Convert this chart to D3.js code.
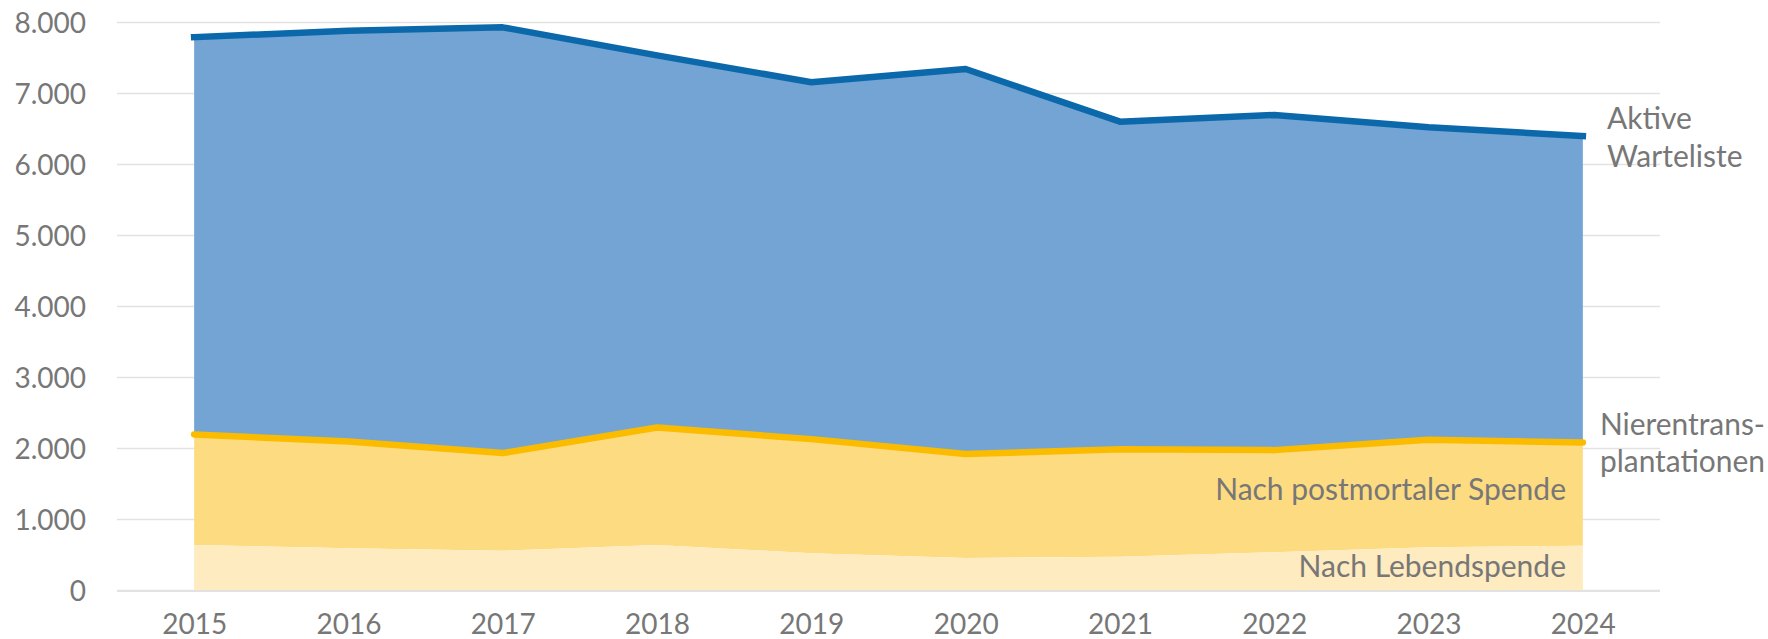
<!DOCTYPE html>
<html lang="de">
<head>
<meta charset="utf-8">
<script src="https://cdn.jsdelivr.net/npm/d3@7"></script>
<style>
  html, body { margin: 0; padding: 0; background: #fff; }
  svg { display: block; font-family: Lato, "Open Sans", sans-serif; }
  .tick text { fill: #777; }
</style>
</head>
<body>
<svg id="chart" width="1768" height="639"></svg>
<script>
// Jahre
const years = ["2015", "2016", "2017", "2018", "2019", "2020", "2021", "2022", "2023", "2024"];
// Nierentransplantationen nach Lebendspende
const living = [635, 588, 554, 635, 518, 451, 470, 532, 602, 625];
// Nierentransplantationen nach postmortaler Spende
const postmortal = [1556, 1504, 1374, 1654, 1607, 1463, 1514, 1438, 1513, 1452];
// Patienten auf der aktiven Warteliste
const waitlist = [7786, 7878, 7925, 7530, 7151, 7338, 6596, 6690, 6517, 6394];
// Achsenbeschriftung der Werte
const yTicks = [0, 1000, 2000, 3000, 4000, 5000, 6000, 7000, 8000];

const rows = years.map((yr, i) => ({
  year: yr,
  living: living[i],
  total: living[i] + postmortal[i],
  wait: waitlist[i]
}));

const svg = d3.select("#chart");
const W = 1768;
const plotLeft = 117, plotRight = 1660, plotTop = 22, plotBottom = 590;
const fontFamily = "Lato, 'Open Sans', sans-serif";
const textGrey = "#777";

const x = d3.scalePoint().domain(years).range([plotLeft, plotRight]).padding(0.5);
const y = d3.scaleLinear().domain([0, 8000]).range([plotBottom, plotTop]);

const de = d3.formatLocale({ decimal: ",", thousands: ".", grouping: [3], currency: ["", " €"] });
const fmt = de.format(",");

// Gitternetz und Werteachse
const yAxis = svg.append("g")
  .attr("transform", `translate(${plotLeft},0)`)
  .call(d3.axisLeft(y).tickValues(yTicks).tickFormat(fmt)
    .tickSize(-(plotRight - plotLeft)).tickPadding(31))
  .attr("font-family", fontFamily).attr("font-size", 28);
yAxis.select(".domain").remove();
yAxis.selectAll(".tick line").attr("stroke", "#e2e2e2").attr("stroke-width", 1.5);
yAxis.selectAll(".tick text").attr("fill", textGrey).attr("dy", "0.36em");

// Flächen
const areaLiving = d3.area().x(d => x(d.year)).y0(y(0)).y1(d => y(d.living));
const areaPost = d3.area().x(d => x(d.year)).y0(d => y(d.living)).y1(d => y(d.total));
const areaWait = d3.area().x(d => x(d.year)).y0(d => y(d.total)).y1(d => y(d.wait));

svg.append("path").datum(rows).attr("d", areaWait).attr("fill", "#74a4d3");
svg.append("path").datum(rows).attr("d", areaPost).attr("fill", "#fddb81");
svg.append("path").datum(rows).attr("d", areaLiving).attr("fill", "#feebbf");

// Jahresachse
const xAxis = svg.append("g")
  .attr("transform", `translate(0,${plotBottom})`)
  .call(d3.axisBottom(x).tickSize(0).tickPadding(24))
  .attr("font-family", fontFamily).attr("font-size", 28);
xAxis.select(".domain").remove();
xAxis.selectAll(".tick text").attr("fill", textGrey);
svg.append("line")
  .attr("x1", plotLeft).attr("x2", plotRight)
  .attr("y1", y(0) + 1).attr("y2", y(0) + 1)
  .attr("stroke", "#e2e2e2").attr("stroke-width", 2);

// Linien
const lineWait = d3.line().x(d => x(d.year)).y(d => y(d.wait));
const lineTotal = d3.line().x(d => x(d.year)).y(d => y(d.total));

svg.append("path").datum(rows).attr("d", lineTotal)
  .attr("fill", "none").attr("stroke", "#fbbc00").attr("stroke-width", 6.5)
  .attr("stroke-linecap", "round").attr("stroke-linejoin", "round");
svg.append("path").datum(rows).attr("d", lineWait)
  .attr("fill", "none").attr("stroke", "#0b69ab").attr("stroke-width", 6.5)
  .attr("stroke-linecap", "square").attr("stroke-linejoin", "round");

// Beschriftungen
const labels = svg.append("g").attr("fill", textGrey).attr("font-size", 30);
labels.append("text").attr("x", 1607).attr("y", 129).text("Aktive");
labels.append("text").attr("x", 1607).attr("y", 167).text("Warteliste");
labels.append("text").attr("x", 1600).attr("y", 435).text("Nierentrans-");
labels.append("text").attr("x", 1600).attr("y", 472).text("plantationen");
labels.append("text").attr("x", 1566).attr("y", 500).attr("text-anchor", "end").text("Nach postmortaler Spende");
labels.append("text").attr("x", 1566).attr("y", 577).attr("text-anchor", "end").text("Nach Lebendspende");

// Rechtsbündige Beschriftungen am Bildrand nicht abschneiden
labels.selectAll("text").each(function () {
  const t = d3.select(this);
  if (t.attr("text-anchor") === "end") return;
  const len = this.getComputedTextLength();
  const room = W - 3 - +t.attr("x");
  if (len > room) t.attr("font-size", 30 * room / len);
});
</script>
</body>
</html>
